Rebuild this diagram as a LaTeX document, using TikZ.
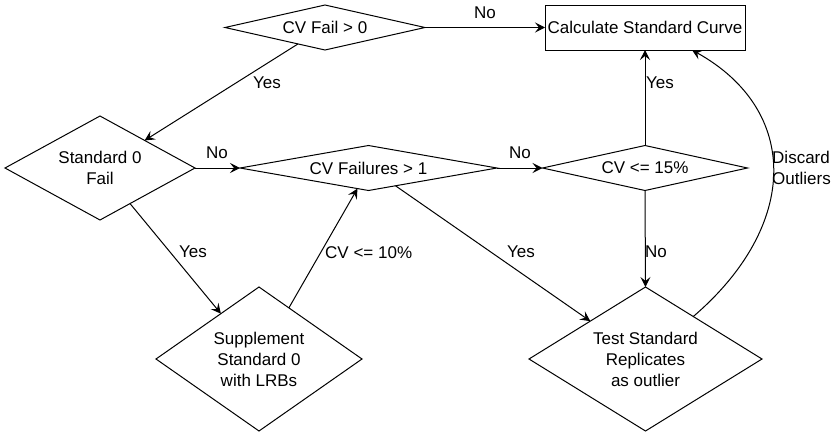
\documentclass[tikz,border=0pt]{standalone}
\usepackage{fontspec}
\setmainfont{Liberation Sans}
\usetikzlibrary{shapes.geometric,arrows.meta,calc}
\begin{document}
\begin{tikzpicture}[x=1pt,y=-1pt,
  every node/.style={font=\fontsize{17}{21}\selectfont},
  dia/.style n args={2}{diamond,draw,line width=1pt,minimum width=#1,minimum height=#2,inner sep=0pt,outer sep=0pt},
  box/.style={rectangle,draw,line width=1pt,minimum width=200pt,minimum height=45pt,inner sep=0pt,outer sep=0pt},
  lbl/.style={align=center,inner sep=0pt},
  arr/.style={draw,line width=1pt,-{Stealth[length=10pt,width=10pt,inset=4pt]}},
  elab/.style={inner sep=0pt}]
\useasboundingbox (0,0) rectangle (833,437);
% nodes
\node[dia={200pt}{45pt}, label={[lbl]center:CV Fail > 0}] (cvfail) at (325,27.5) {};
\node[box] (calc) at (645,27.5) {Calculate Standard Curve};
\node[dia={190pt}{104pt}, label={[lbl]center:{Standard 0\\Fail}}] (std0) at (100,168) {};
\node[dia={257pt}{45pt}, label={[lbl]center:CV Failures > 1}] (cvf1) at (368.5,168) {};
\node[dia={205pt}{45pt}, label={[lbl]center:CV <= 15\%}] (cv15) at (645,168) {};
\node[dia={206pt}{144pt}, label={[lbl]center:{Supplement\\Standard 0\\with LRBs}}] (supp) at (259,359) {};
\node[dia={233pt}{144pt}, label={[lbl]center:{Test Standard\\Replicates\\as outlier}}] (test) at (645.5,359) {};
% connectors
\draw[arr] ($(cvfail.west)!0.73!(cvfail.south)$) -- ($(std0.north)!0.47!(std0.east)$);
\draw[arr] (cvfail.east) -- (calc.west);
\draw[arr] (std0.east) -- (cvf1.west);
\draw[arr] ($(std0.east)!0.684!(std0.south)$) -- ($(supp.west)!0.63!(supp.north)$);
\draw[arr] ($(supp.north)!0.29!(supp.east)$) -- ($(cvf1.west)!0.914!(cvf1.south)$);
\draw[arr] ($(cvf1.south)!0.21!(cvf1.east)$) -- ($(test.west)!0.526!(test.north)$);
\draw[arr] (cvf1.east) -- (cv15.west);
\draw[arr] (cv15.north) -- (calc.south);
\draw[arr] (cv15.south) -- (test.north);
\coordinate (ctop) at ($(calc.south west)!0.735!(calc.south east)$);
\draw[arr] ($(test.north)!0.41!(test.east)$) .. controls (800,225) and (800,110) .. (ctop);
% labels
\node[elab] (l1) at (267,83) {Yes};
\node[elab] (l2) at (485,13) {No};
\node[elab] (l3) at (217,153) {No};
\node[elab] (l4) at (193,252) {Yes};
\node[elab,anchor=west] (l5) at (325,253) {CV <= 10\%};
\node[elab] (l6) at (521,252) {Yes};
\node[elab] (l7) at (520,153) {No};
\node[elab,anchor=west] (l8) at (646,83) {Yes};
\node[elab] (l9) at (656,252) {No};
\node[elab,align=left,anchor=west] (l10) at (772,167.5) {Discard\\Outliers};
\end{tikzpicture}
\end{document}
